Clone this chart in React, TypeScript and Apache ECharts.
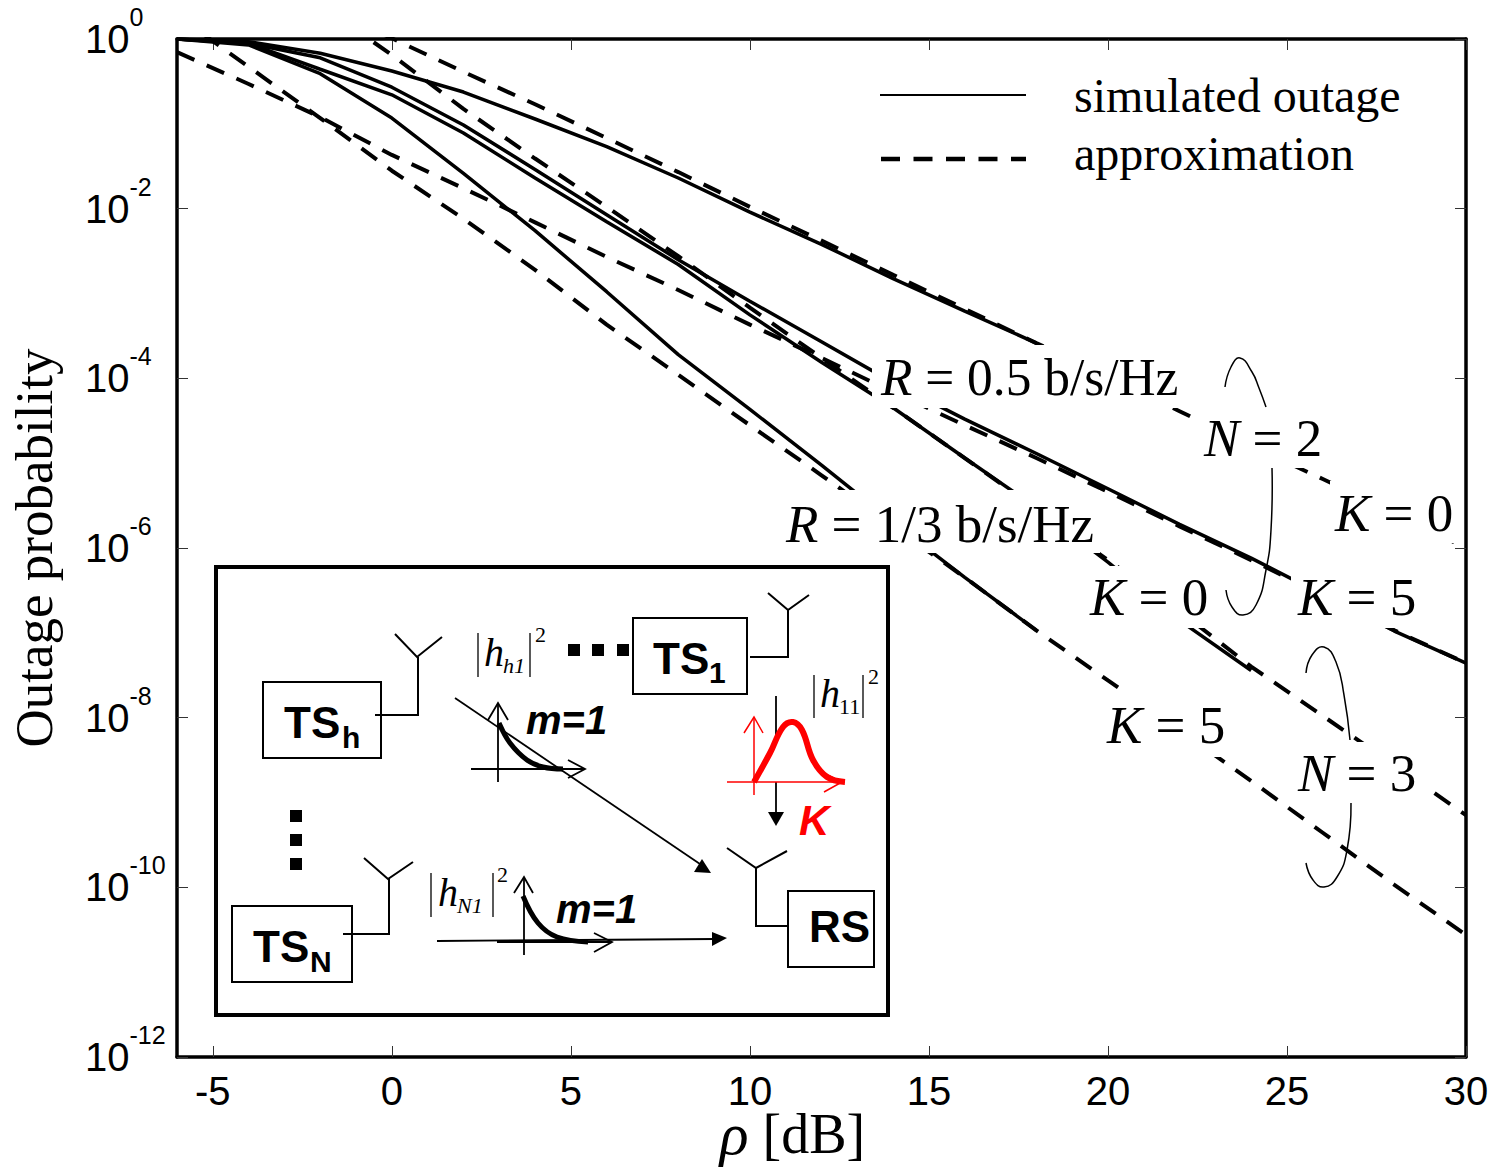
import React, { useEffect, useRef } from "react";
import * as echarts from "echarts";

const rhoDb = [-6, -4, -2, 0, 2, 4, 6, 8, 10, 12, 14, 16, 18, 20, 22, 24, 26, 28, 30];
const xTicks = [-5, 0, 5, 10, 15, 20, 25, 30];

const simN2K0 = [1, 0.93, 0.68, 0.42, 0.237, 0.114, 5.4e-2, 2.3e-2, 9.1e-3, 3.8e-3, 1.5e-3, 6.2e-4, 2.6e-4];
const simN2K5 = [1, 0.89, 0.6, 0.27, 9.7e-2, 2.9e-2, 8.5e-3, 2.5e-3, 8.1e-4, 2.7e-4, 8.9e-5, 3.3e-5, 1.3e-5, 5e-6, 1.9e-6, 7.6e-7, 2.8e-7, 1.05e-7, 4.4e-8];
const simN3K0 = [1, 0.89, 0.44, 0.22, 7.8e-2, 2.3e-2, 7e-3, 2.2e-3, 5.6e-4, 1.55e-4, 4.5e-5, 1.15e-5, 3e-6, 6.8e-7, 1.4e-7, 3.6e-8];
const simN3K5 = [1, 0.85, 0.39, 0.117, 2.6e-2, 5.5e-3, 1.05e-3, 1.9e-4, 4.3e-5, 9.5e-6, 2e-6, 4.5e-7, 1.07e-7];

// these two start at -2 dB (their first values lie above the top of the axis)
const appN2K0 = [2.4, 1.02, 0.41, 0.17, 6.8e-2, 2.7e-2, 1.05e-2, 4.2e-3, 1.66e-3, 6.6e-4, 2.6e-4, 1.05e-4, 4.1e-5, 1.6e-5, 6.5e-6, 2.6e-6, 1e-6];
const appN3K0 = [2.5, 0.65, 0.15, 3.9e-2, 1.05e-2, 2.75e-3, 6.8e-4, 1.74e-4, 4.5e-5, 1.15e-5, 2.9e-6, 7.2e-7, 1.8e-7, 4e-8, 1.05e-8, 2.75e-9, 7.1e-10];
const appN2K5 = [0.7, 0.295, 0.12, 4.3e-2, 1.74e-2, 6.9e-3, 2.7e-3, 1.1e-3, 4.3e-4, 1.74e-4, 6.9e-5, 2.8e-5, 1.15e-5, 4.6e-6, 1.8e-6, 7.2e-7, 2.8e-7, 1.07e-7, 4.4e-8];
const appN3K5 = [1.9, 0.47, 0.117, 2.8e-2, 7.6e-3, 1.9e-3, 4.3e-4, 1.1e-4, 2.8e-5, 7.2e-6, 1.8e-6, 4.5e-7, 1.07e-7, 2.75e-8, 7.1e-9, 1.8e-9, 4.4e-10, 1.07e-10, 2.75e-11];

const SIM = "simulated outage";
const APP = "approximation";
const SERIF = "Liberation Serif";
const SANS = "Liberation Sans";
const DASH = [19, 13.5];

const zip = (vals: number[], start = 0) => vals.map((v, i) => [rhoDb[i + start], v]);

const solid = (data: number[][]) => ({
  type: "line", name: SIM, data, symbol: "none", showSymbol: false, clip: true, z: 3,
  lineStyle: { color: "#000", width: 3.5, type: "solid", cap: "butt" },
  itemStyle: { color: "#000" },
});
const dashed = (data: number[][]) => ({
  type: "line", name: APP, data, symbol: "none", showSymbol: false, clip: true, z: 3,
  lineStyle: { color: "#000", width: 4, type: DASH, cap: "butt" },
  itemStyle: { color: "#000" },
});

function buildGraphics() {
  const els: any[] = [];
  const rect = (x: number, y: number, w: number, h: number, fill: string, stroke = "", lw = 0, z = 50) =>
    els.push({ type: "rect", silent: true, z, shape: { x, y, width: w, height: h }, style: { fill, stroke: stroke || undefined, lineWidth: lw } });
  const poly = (points: number[][], lw = 1.5, stroke = "#000", smooth = 0, z = 62, lineDash?: number[]) =>
    els.push({ type: "polyline", silent: true, z, shape: { points, smooth }, style: { stroke, lineWidth: lw, fill: "none", lineDash } });
  const tri = (points: number[][], fill = "#000", z = 62) =>
    els.push({ type: "polygon", silent: true, z, shape: { points }, style: { fill } });
  const txt = (text: string, x: number, base: number, size: number, o: any = {}) =>
    els.push({
      type: "text", silent: true, z: o.z || 63, x, y: base - size * 0.3375,
      style: {
        text, fontSize: size, fontFamily: o.family || SANS, fontWeight: o.weight || "normal",
        fontStyle: o.style || "normal", fill: o.fill || "#000", textAlign: "left", textVerticalAlign: "middle",
      },
    });
  const formula = (a: string, b: string, x: number, base: number, scaleX = 1) =>
    els.push({
      type: "text", silent: true, z: 52, x, y: base - 53 * 0.3375, scaleX,
      style: {
        text: `{i|${a}}{n|${b}}`, textAlign: "left", textVerticalAlign: "middle", fill: "#000",
        rich: {
          i: { fontFamily: SERIF, fontStyle: "italic", fontSize: 53, fill: "#000" },
          n: { fontFamily: SERIF, fontSize: 53, fill: "#000" },
        },
      },
    });

  // legend keys
  poly([[880, 95], [1026, 95]], 2, "#000", 0, 10);
  poly([[881, 159], [1026, 159]], 4.5, "#000", 0, 10, DASH);

  // white masks behind annotations
  rect(872, 345, 308, 63, "#fff");
  rect(780, 490, 320, 63, "#fff");
  rect(1200, 407, 140, 61, "#fff");
  rect(1330, 481, 128, 62, "#fff");
  rect(1085, 566, 130, 62, "#fff");
  rect(1291, 560, 130, 68, "#fff");
  rect(1105, 692, 120, 65, "#fff");
  rect(1295, 742, 135, 61, "#fff");

  formula("R", " = 0.5 b/s/Hz", 881, 395, 0.97);
  formula("R", " = 1/3 b/s/Hz", 786, 542, 1);
  formula("N", " = 2", 1204, 456);
  formula("K", " = 0", 1335, 531);
  formula("K", " = 0", 1090, 615);
  formula("K", " = 5", 1298, 615);
  formula("K", " = 5", 1107, 743);
  formula("N", " = 3", 1298, 791);

  // brace arcs
  poly([[1225, 387], [1231, 367], [1240, 358], [1252, 372], [1259, 388], [1266, 407]], 1.5, "#000", 0.5, 53);
  poly([[1272, 468], [1271, 530], [1266, 570], [1256, 605], [1243, 615], [1232, 607], [1226, 590]], 1.5, "#000", 0.5, 53);
  poly([[1306, 673], [1312, 655], [1324, 647], [1336, 662], [1344, 695], [1350, 740]], 1.5, "#000", 0.5, 53);
  poly([[1351, 803], [1347, 850], [1337, 877], [1324, 887], [1313, 880], [1306, 863]], 1.5, "#000", 0.5, 53);

  // inset frame
  rect(216, 567, 672, 448, "#fff", "#000", 4, 60);

  // boxes
  rect(263, 682, 118, 76, "#fff", "#000", 2, 61);
  rect(232, 906, 120, 76, "#fff", "#000", 2, 61);
  rect(633, 618, 114, 76, "#fff", "#000", 2, 61);
  rect(788, 891, 86, 76, "#fff", "#000", 2, 61);

  const bold = { weight: "bold" };
  txt("TS", 284, 737, 44, bold);
  txt("h", 342, 748, 30, bold);
  txt("TS", 253, 961, 44, bold);
  txt("N", 310, 972, 30, bold);
  txt("TS", 653, 673, 44, bold);
  txt("1", 709, 683, 30, bold);
  txt("RS", 809, 941, 44, bold);
  const bi = { weight: "bold", style: "italic" };
  txt("m=1", 526, 733, 40, bi);
  txt("m=1", 556, 922, 40, bi);
  txt("K", 799, 835, 42, { ...bi, fill: "#ff0000" });

  // antennas and wires
  poly([[375, 715], [418, 715], [418, 657]], 2);
  poly([[395, 634], [417, 657], [442, 637]], 2);
  poly([[343, 934], [389, 934], [389, 879]], 2);
  poly([[364, 858], [388, 879], [413, 862]], 2);
  poly([[750, 657], [788, 657], [788, 610]], 2);
  poly([[768, 593], [788, 610], [809, 595]], 2);
  poly([[788, 926], [756, 926], [756, 868]], 2);
  poly([[727, 848], [756, 868], [787, 851]], 2);

  // dots
  [568, 592, 617].forEach((x) => rect(x, 644, 12, 12, "#000", "", 0, 61));
  [810, 834, 858].forEach((y) => rect(290, y, 12, 12, "#000", "", 0, 61));

  // channels
  poly([[455, 698], [700, 864]], 1.8);
  tri([[711, 873], [694, 872], [702, 859]]);
  poly([[437, 941], [715, 939]], 1.8);
  tri([[727, 938], [712, 932], [712, 946]]);

  // channel gains
  const gain = (bars: number[], top: number, bottom: number, hx: number, hBase: number, sub: string, subX: number, subBase: number, subItalic: boolean, supX: number, supBase: number) => {
    poly([[bars[0], top], [bars[0], bottom]], 1.3);
    poly([[bars[1], top], [bars[1], bottom]], 1.3);
    txt("h", hx, hBase, 40, { family: SERIF, style: "italic" });
    txt(sub, subX, subBase, 22, { family: SERIF, style: subItalic ? "italic" : "normal" });
    txt("2", supX, supBase, 22, { family: SERIF });
  };
  gain([478, 530], 633, 677, 484, 666, "h1", 503, 673, true, 535, 642);
  gain([431, 493], 873, 917, 438, 906, "N1", 457, 913, true, 497, 882);
  gain([814, 863], 675, 718, 820, 707, "11", 839, 714, false, 868, 684);

  // small distributions, m = 1
  poly([[498, 782], [498, 703]], 1.8);
  poly([[488, 720], [498, 703], [508, 720]], 1.8);
  poly([[471, 769], [585, 769]], 1.8);
  poly([[568, 760], [585, 769], [568, 778]], 1.8);
  poly([[499, 723], [510, 743], [527, 760], [543, 767], [563, 769]], 5, "#000", 0.4);

  poly([[524, 955], [524, 877]], 1.8);
  poly([[514, 893], [524, 877], [533, 893]], 1.8);
  poly([[497, 942], [612, 942]], 1.8);
  poly([[594, 933], [612, 942], [594, 952]], 1.8);
  poly([[523, 896], [538, 923], [557, 937], [588, 942]], 5, "#000", 0.4);

  // red distribution with black arrow
  poly([[776, 696], [776, 740]], 1.8);
  poly([[776, 782], [776, 812]], 1.8);
  tri([[768, 812], [784, 812], [776, 826]]);
  const red = "#ff0000";
  poly([[754, 795], [754, 717]], 1.5, red);
  poly([[744, 733], [754, 717], [763, 733]], 1.5, red);
  poly([[727, 782], [845, 782]], 1.5, red);
  poly([[824, 792], [842, 782], [824, 773]], 1.5, red);
  poly([[754, 782], [770, 753], [783, 727], [793, 722], [802, 730], [813, 760], [827, 777], [845, 782]], 6, red, 0.4);

  return els;
}

export default function App() {
  const ref = useRef<HTMLDivElement>(null);
  useEffect(() => {
    document.body.style.margin = "0";
    const chart = echarts.init(ref.current!, undefined, { renderer: "svg" });
    const axisLine = { show: true, onZero: false, lineStyle: { color: "#000", width: 3.5 } };
    const tick = { show: true, inside: true, length: 11, lineStyle: { color: "#333", width: 1 } };
    chart.setOption({
      animation: false,
      backgroundColor: "#fff",
      grid: { left: 177, top: 39, width: 1289, height: 1018, containLabel: false, outerBoundsMode: "none" },
      legend: {
        left: 880, top: 69, padding: 0, orient: "vertical", selectedMode: false, itemWidth: 147, itemHeight: 14, itemGap: 6,
        icon: "none",
        textStyle: { fontFamily: SERIF, fontSize: 48, color: "#000", padding: [0, 0, 0, 42], lineHeight: 52 },
        data: [
          { name: SIM, icon: "none" },
          { name: APP, icon: "none" },
        ],
      },
      xAxis: [
        {
          type: "value", min: -6, max: 30, position: "bottom", axisLine,
          axisTick: { ...tick, customValues: xTicks }, splitLine: { show: false },
          axisLabel: { customValues: xTicks, margin: 19, lineHeight: 30, fontFamily: SANS, fontSize: 40, color: "#000", formatter: (v: number) => String(v) },
          name: "{r|ρ}{t|[dB]}", nameLocation: "middle", nameGap: 52, nameMoveOverlap: false,
          nameTextStyle: {
            padding: [0, 58, 0, 0],
            rich: {
              r: { fontFamily: SERIF, fontStyle: "italic", fontSize: 60, lineHeight: 50, color: "#000", padding: [0, 14, 0, 0] },
              t: { fontFamily: SERIF, fontSize: 56, lineHeight: 50, color: "#000" },
            },
          },
        },
        {
          type: "value", min: -6, max: 30, position: "top", axisLine,
          axisTick: { ...tick, customValues: xTicks }, axisLabel: { show: false }, splitLine: { show: false },
        },
      ],
      yAxis: [
        {
          type: "log", logBase: 10, min: 1e-12, max: 1, interval: 2, position: "left", axisLine,
          axisTick: tick, splitLine: { show: false }, minorTick: { show: false },
          axisLabel: {
            margin: 92, align: "left",
            formatter: (v: number) => `{b|10}{s|${Math.round(Math.log10(v))}}`,
            rich: {
              b: { fontFamily: SANS, fontSize: 40, color: "#000" },
              s: { fontFamily: SANS, fontSize: 25, color: "#000", padding: [0, 0, 44, 0] },
            },
          },
          name: "Outage probability", nameLocation: "middle", nameGap: 117, nameRotate: 90, nameMoveOverlap: false,
          nameTextStyle: { fontFamily: SERIF, fontSize: 53, color: "#000" },
        },
        {
          type: "log", logBase: 10, min: 1e-12, max: 1, interval: 2, position: "right", axisLine,
          axisTick: tick, axisLabel: { show: false }, splitLine: { show: false }, minorTick: { show: false },
        },
      ],
      series: [
        solid(zip(simN2K0)),
        solid(zip(simN2K5)),
        solid(zip(simN3K0)),
        solid(zip(simN3K5)),
        dashed(zip(appN2K0, 2)),
        dashed(zip(appN3K0, 2)),
        dashed(zip(appN2K5)),
        dashed(zip(appN3K5)),
      ],
      graphic: { elements: buildGraphics() },
    });
    return () => chart.dispose();
  }, []);
  return <div ref={ref} style={{ position: "absolute", left: 0, top: 0, width: 1494, height: 1167 }} />;
}
